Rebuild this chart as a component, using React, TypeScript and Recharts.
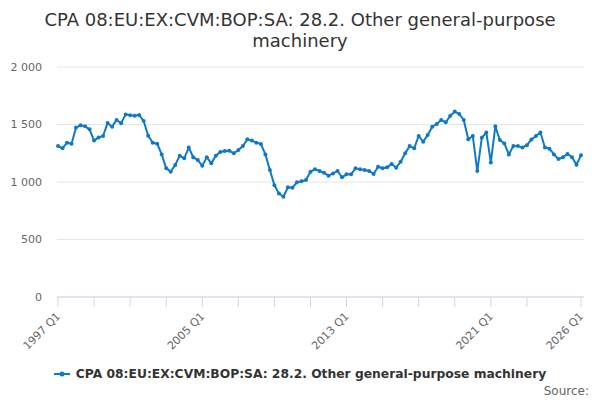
import React from "react";
import { CartesianGrid, Line, LineChart, XAxis, YAxis } from "recharts";

const TITLE = "CPA 08:EU:EX:CVM:BOP:SA: 28.2. Other general-purpose machinery";

const firstYear = 1997;
const lastYear = 2026;

// quarter labels 1997 Q1 .. 2026 Q1
const quarters: string[] = [];
for (let y = firstYear; y <= lastYear; y++) {
  for (let q = 1; q <= 4; q++) {
    if (y === lastYear && q > 1) break;
    quarters.push(`${y} Q${q}`);
  }
}

const values = [
  1313, 1293, 1342, 1333, 1473, 1493, 1484, 1458, 1360, 1388, 1400, 1513,
  1481, 1539, 1510, 1588, 1580, 1577, 1583, 1530, 1403, 1342, 1333, 1240,
  1119, 1090, 1148, 1229, 1206, 1299, 1215, 1191, 1142, 1215, 1162, 1229,
  1261, 1270, 1272, 1249, 1278, 1313, 1371, 1360, 1342, 1330, 1240, 1104,
  971, 901, 872, 954, 951, 997, 1006, 1017, 1090, 1110, 1096, 1081,
  1055, 1075, 1096, 1041, 1067, 1067, 1119, 1110, 1104, 1096, 1070, 1133,
  1119, 1128, 1157, 1125, 1177, 1249, 1313, 1293, 1400, 1351, 1409, 1481,
  1504, 1539, 1519, 1577, 1612, 1591, 1539, 1371, 1400, 1095, 1385, 1430,
  1170, 1485, 1365, 1335, 1240, 1313, 1313, 1300, 1320, 1370, 1400, 1430,
  1300, 1290, 1240, 1200, 1215, 1243, 1215, 1150, 1232,
];

const tickMarks = [
  "1997 Q1", "1999 Q1", "2001 Q1", "2003 Q1", "2005 Q1", "2007 Q1", "2009 Q1",
  "2011 Q1", "2013 Q1", "2015 Q1", "2017 Q1", "2019 Q1", "2021 Q1", "2023 Q1",
  "2026 Q1",
];
const tickLabels = ["1997 Q1", "2005 Q1", "2013 Q1", "2021 Q1", "2026 Q1"];
const yTicks = [0, 500, 1000, 1500, 2000];

const data = quarters.map((q, i) => ({ q, v: values[i] }));

const LINE = "#1179c4";
const FONT = "'DejaVu Sans', sans-serif";

const fmt = (n: number) => String(n).replace(/\B(?=(\d{3})+(?!\d))/g, " ");

const XTick = (props: any) => {
  const { x, y, payload } = props;
  if (!tickLabels.includes(payload.value)) return null;
  return (
    <text
      x={x + 3}
      y={y + 8}
      transform={`rotate(-45, ${x + 3}, ${y + 8})`}
      textAnchor="end"
      fontSize={11}
      fill="#666"
      fontFamily={FONT}
    >
      {payload.value}
    </text>
  );
};

export default function App() {
  return (
    <div
      style={{
        position: "absolute",
        left: 0,
        top: 0,
        width: 600,
        height: 400,
        background: "#fff",
      }}
    >
      <div
        style={{
          position: "absolute",
          top: 9,
          left: 40,
          width: 520,
          textAlign: "center",
          fontFamily: FONT,
          fontSize: 18,
          lineHeight: "21px",
          color: "#333",
        }}
      >
        {TITLE}
      </div>
      <LineChart
        width={600}
        height={400}
        data={data}
        margin={{ top: 67, right: 16, bottom: 43, left: 0 }}
      >
        <CartesianGrid vertical={false} stroke="#e6e6e6" />
        <XAxis
          dataKey="q"
          ticks={tickMarks}
          interval={0}
          tick={<XTick />}
          tickSize={10}
          tickLine={{ stroke: "#ccd6eb" }}
          axisLine={{ stroke: "#ccd6eb" }}
          padding={{ left: 1, right: 3 }}
          height={60}
        />
        <YAxis
          width={57}
          domain={[0, 2000]}
          ticks={yTicks}
          tickFormatter={fmt}
          axisLine={false}
          tickLine={false}
          tickSize={0}
          tickMargin={15}
          tick={{ fontSize: 11, fill: "#666", fontFamily: FONT }}
        />
        <Line
          type="linear"
          dataKey="v"
          stroke={LINE}
          strokeWidth={2}
          dot={{ r: 2, fill: LINE, stroke: LINE, strokeWidth: 0 }}
          isAnimationActive={false}
        />
      </LineChart>
      <div
        style={{
          position: "absolute",
          left: 0,
          width: 600,
          top: 367,
          display: "flex",
          justifyContent: "center",
          alignItems: "center",
          fontFamily: FONT,
          fontSize: 12.3,
          fontWeight: "bold",
          color: "#333",
        }}
      >
        <svg width={16} height={10} style={{ marginRight: 6 }}>
          <line x1={0} y1={5} x2={16} y2={5} stroke={LINE} strokeWidth={2} />
          <circle cx={8} cy={5} r={2.5} fill={LINE} />
        </svg>
        {TITLE}
      </div>
      <div
        style={{
          position: "absolute",
          right: 11,
          top: 384,
          fontFamily: FONT,
          fontSize: 12,
          color: "#666",
        }}
      >
        Source:
      </div>
    </div>
  );
}
